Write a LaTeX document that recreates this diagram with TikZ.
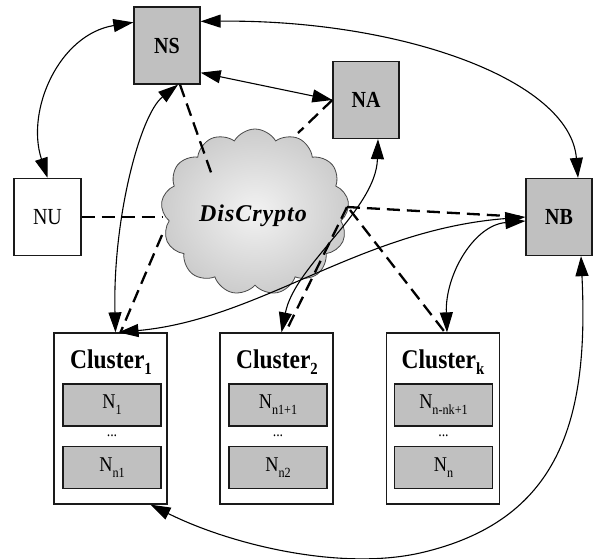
\documentclass[tikz,border=0pt]{standalone}
\usepackage{fontspec}
\setmainfont{Liberation Serif}[FakeStretch=0.87]
\newfontfamily\dcfont{Liberation Serif}[LetterSpace=4]
\usetikzlibrary{arrows.meta,shapes.symbols,calc}
\definecolor{boxgray}{HTML}{C0C0C0}
\definecolor{edgecol}{HTML}{1A1A1A}
\newcommand\lowsub[2][14]{\raisebox{-6pt}{\fontsize{#1}{#1}\selectfont #2}}
\tikzset{
  grayblock/.style={draw=edgecol, fill=boxgray, line width=1.3pt, minimum width=66pt, minimum height=77pt, inner sep=0pt, font=\fontsize{23}{23}\selectfont\bfseries},
  whiteblock/.style={draw=edgecol, fill=white, line width=1.3pt, minimum width=67pt, minimum height=77pt, inner sep=0pt, font=\fontsize{23}{23}\selectfont},
  clusterbox/.style={draw=edgecol, fill=white, line width=1.3pt, minimum width=113pt, minimum height=171pt, inner sep=0pt},
  memberbox/.style={draw=edgecol, fill=boxgray, line width=1.3pt, minimum width=98pt, minimum height=42pt, inner sep=0pt, font=\fontsize{21}{21}\selectfont},
  ctitle/.style={inner sep=0pt, font=\fontsize{27}{27}\selectfont\bfseries},
  dotsnode/.style={inner sep=0pt, font=\fontsize{16}{16}\selectfont},
  tipshape/.tip={Triangle[length=20pt,width=13pt]},
  link/.style={draw=black, line width=1.1pt, {tipshape}-{tipshape}},
  dlink/.style={draw=black, line width=2.3pt, dash pattern=on 13pt off 7pt},
}
\begin{document}
\begin{tikzpicture}[x=1pt,y=-1pt]
\useasboundingbox (0,0) rectangle (594,558);
% cloud
\node[cloud, cloud puffs=13, cloud puff arc=120, aspect=1.12, minimum width=188pt, minimum height=166pt,
      draw=edgecol!80, line width=0.8pt, inner color=black!5, outer color=black!20] (cloud) at (255,212) {};
\coordinate (cns) at (213,178);
\coordinate (cna) at (298,133);
\coordinate (cnu) at (162,217);
\coordinate (ccl) at (162,235);
\coordinate (cr) at (347,207);
\coordinate (cr2) at (350,210);

% main nodes
\node[grayblock] (NS) at (167,45.5) {NS};
\node[grayblock] (NA) at (366,100) {NA};
\node[whiteblock] (NU) at (47.5,217) {NU};
\node[grayblock] (NB) at (559,217) {NB};

% clusters
\node[clusterbox] (C1) at (110.5,418.5) {};
\node[clusterbox] (C2) at (276.5,418.5) {};
\node[clusterbox] (Ck) at (443,418.5) {};
\node[ctitle] (t1) at (111,362) {Cluster\lowsub[17]{1}};
\node[ctitle] (t2) at (277,362) {Cluster\lowsub[17]{2}};
\node[ctitle] (tk) at (443,362) {Cluster\lowsub[17]{k}};
\node[memberbox] (m11) at (112,405) {N\lowsub{1}};
\node[dotsnode] (d1) at (112,436) {...};
\node[memberbox] (m12) at (112,467.5) {N\lowsub{n1}};
\node[memberbox] (m21) at (278,405) {N\lowsub{n1+1}};
\node[dotsnode] (d2) at (278,436) {...};
\node[memberbox] (m22) at (278,467.5) {N\lowsub{n2}};
\node[memberbox] (mk1) at (443.5,405) {N\lowsub{n-nk+1}};
\node[dotsnode] (dk) at (443.5,436) {...};
\node[memberbox] (mk2) at (443.5,467.5) {N\lowsub{n}};

% dashed links to the cloud
\draw[dlink] ($(NS.south)+(13,0)$) -- (cns);
\draw[dlink] (NA.west) -- (cna);
\draw[dlink] (NU.east) -- (cnu);
\draw[dlink] (ccl) -- ($(C1.north)+(10,0)$);
\draw[dlink] (cr) -- ($(C2.north)+(9,0)$);
\draw[dlink] (cr) -- (NB.west);
\draw[dlink] (cr2) -- ($(Ck.north)+(2,0)$);

% solid links
\draw[link] ($(NS.north west)+(0,16)$) .. controls +(-74,12) and +(-22,-68) .. (NU.north);
\draw[link] ($(NS.north east)+(0,15)$) .. controls +(200,-2) and +(-8,-98) .. ($(NB.north)+(19,0)$);
\draw[link] ($(NS.south east)+(0,-12)$) -- (NA.west);
\draw[link] ($(NS.south)+(11,0)$) .. controls +(-38,30) and +(-3,-113) .. ($(C1.north)+(5,0)$);
\draw[link] ($(C1.north)+(8,0)$) .. controls +(142,-13) and +(-166,13) .. (NB.west);
\draw[link] ($(NA.south)+(12,0)$) .. controls +(-2,71) and +(13.5,-68) .. ($(C2.north)+(5,0)$);
\draw[link] ($(NB.west)+(0,4)$) .. controls +(-51,4) and +(-2,-58) .. ($(Ck.north)+(4,0)$);
\coordinate (bottommid) at (420,553);
\draw[link] ($(NB.south)+(22,0)$) .. controls +(8,164) and +(140,-32) .. (bottommid)
   .. controls +(-80,18) and +(80,40) .. ($(C1.south)+(40,0)$);

% cloud label
\node[inner sep=0pt, font=\dcfont\fontsize{24}{24}\selectfont\bfseries\itshape] (dc) at (253,216) {DisCrypto};
\end{tikzpicture}
\end{document}
